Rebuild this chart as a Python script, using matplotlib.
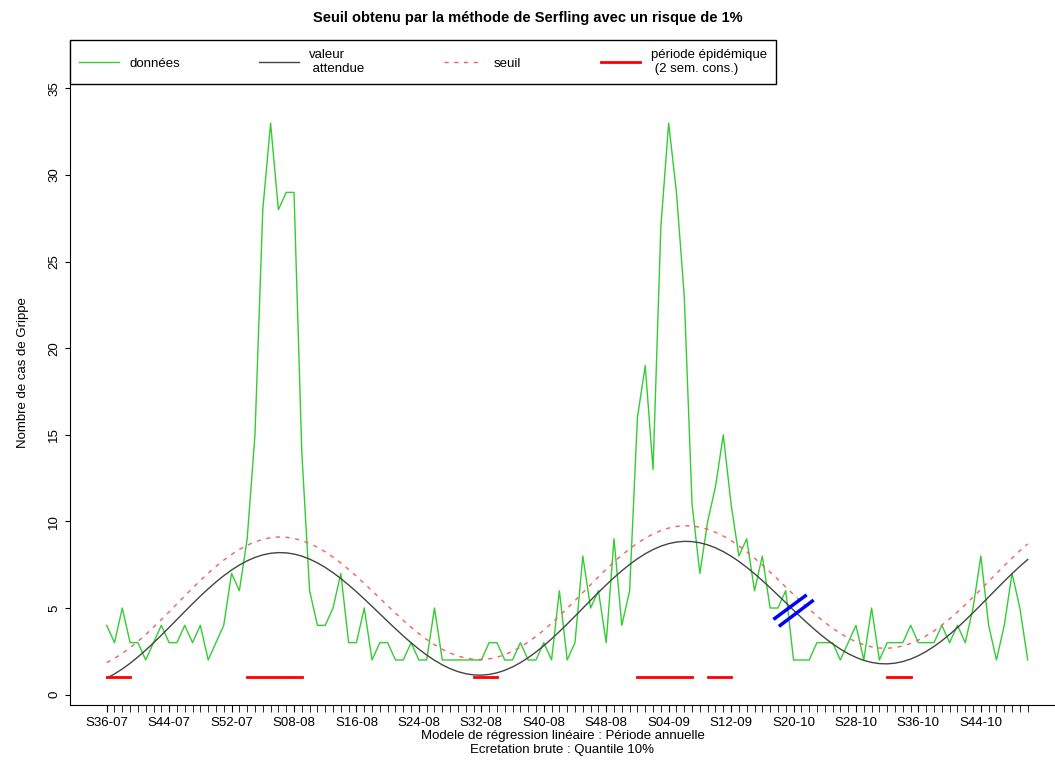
import matplotlib.pyplot as plt
import numpy as np

# weekly counts, S36-07 onwards
donnees = [4, 3, 5, 3, 3, 2, 3, 4, 3, 3, 4, 3, 4, 2, 3, 4, 7, 6, 9, 15,
           28, 33, 28, 29, 29, 14, 6, 4, 4, 5, 7, 3, 3, 5, 2, 3, 3, 2, 2, 3,
           2, 2, 5, 2, 2, 2, 2, 2, 2, 3, 3, 2, 2, 3, 2, 2, 3, 2, 6, 2,
           3, 8, 5, 6, 3, 9, 4, 6, 16, 19, 13, 27, 33, 29, 23, 11, 7, 10, 12, 15,
           11, 8, 9, 6, 8, 5, 5, 6, 2, 2, 2, 3, 3, 3, 2, 3, 4, 2, 5, 2,
           3, 3, 3, 4, 3, 3, 3, 4, 3, 4, 3, 5, 8, 4, 2, 4, 7, 5, 2]
tick_labels = ["S36-07", "S44-07", "S52-07", "S08-08", "S16-08", "S24-08", "S32-08",
               "S40-08", "S48-08", "S04-09", "S12-09", "S20-10", "S28-10", "S36-10", "S44-10"]
# serfling fit: level, trend, amplitude, peak week, threshold offset
niveau, pente, amplitude, pic, ecart_seuil = 4.5, 0.0125, 3.7, 22, 0.9
# epidemic periods (start, end index)
periodes = [(0, 3), (18, 25), (47, 50), (68, 75), (77, 80), (100, 103)]
# blue marks
marque1 = ([85.6, 89.5], [4.4, 5.7])
marque2 = ([86.3, 90.4], [4.0, 5.4])

t = np.arange(len(donnees))
attendue = niveau + pente * (t - pic) + amplitude * np.cos(2 * np.pi * (t - pic) / 52)
seuil = attendue + ecart_seuil

plt.rcParams['font.family'] = 'Liberation Sans'
fig = plt.figure(figsize=(10.55, 7.65), dpi=100)
ax = fig.add_axes([70 / 1055, 60 / 765, 985 / 1055, 665 / 765])

ax.plot(t, donnees, color='#33cc33', lw=1, label='données')
ax.plot(t, attendue, color='#444444', lw=1, label='valeur\n attendue')
ax.plot(t, seuil, color='#f06060', lw=1, ls=(0, (3, 4)), label='seuil')
for i, (a, b) in enumerate(periodes):
    ax.plot([a, b], [1, 1], color='red', lw=2,
            label='période épidémique\n (2 sem. cons.)' if i == 0 else None)
ax.plot(*marque1, color='blue', lw=2.5)
ax.plot(*marque2, color='blue', lw=2.5)

ax.set_xlim(-4.7, 121.5)
ax.set_ylim(-0.6, 37.8)
ax.set_xticks(t, minor=True)
ax.set_xticks(np.arange(0, len(donnees), 8))
ax.set_xticklabels(tick_labels, fontsize=9.5)
ax.tick_params(axis='x', which='minor', length=5)
ax.tick_params(axis='x', which='major', length=5)
ax.set_yticks(np.arange(0, 36, 5))
ax.set_yticklabels([str(v) for v in range(0, 36, 5)], rotation=90, va='center', fontsize=9.5)
ax.spines['right'].set_visible(False)
ax.spines['top'].set_visible(False)
ax.set_ylabel('Nombre de cas de Grippe', fontsize=9.5, labelpad=14)
ax.set_xlabel('Modele de régression linéaire : Période annuelle\nEcretation brute : Quantile 10%',
              fontsize=9.5, labelpad=1)
fig.suptitle('Seuil obtenu par la méthode de Serfling avec un risque de 1%',
             fontsize=10.5, fontweight='bold', y=0.985)
leg = ax.legend(ncol=4, loc='upper left', bbox_to_anchor=(0, 1), fancybox=False,
                edgecolor='black', fontsize=9.5, borderaxespad=0, handlelength=3,
                columnspacing=6, borderpad=0.7, framealpha=1)
leg.get_frame().set_linewidth(1)

fig.savefig('out.png')
